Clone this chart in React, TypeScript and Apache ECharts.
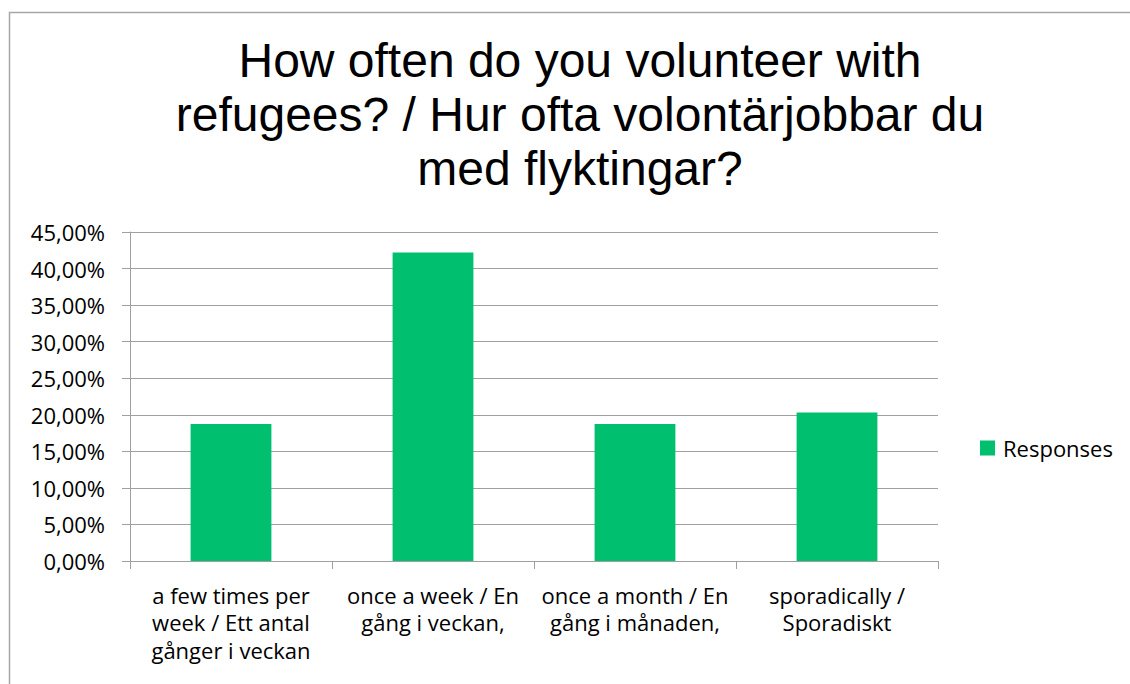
import React, { useEffect, useRef } from "react";
import * as echarts from "echarts";

const categories = [
  "a few times per\nweek / Ett antal\ngånger i veckan",
  "once a week / En\ngång i veckan,",
  "once a month / En\ngång i månaden,",
  "sporadically /\nSporadiskt",
];
const responses = [18.75, 42.19, 18.75, 20.31];
const seriesName = "Responses";
const titleText = "How often do you volunteer with\nrefugees? / Hur ofta volontärjobbar du\nmed flyktingar?";

export default function App() {
  const ref = useRef<HTMLDivElement>(null);
  useEffect(() => {
    if (!ref.current) return;
    const chart = echarts.init(ref.current, null, { renderer: "svg" });
    const labelFont = "'Open Sans', Lato, sans-serif";
    chart.setOption({
      animation: false,
      backgroundColor: "#ffffff",
      graphic: [
        {
          type: "rect",
          shape: { x: 9.5, y: 12.5, width: 1130, height: 700 },
          style: { fill: "none", stroke: "#A6A6A6", lineWidth: 1.5 },
          silent: true,
        },
      ],
      title: {
        text: titleText,
        left: 575,
        textAlign: "center",
        top: 28,
        textStyle: {
          fontFamily: "'Liberation Sans', Arial, sans-serif",
          fontSize: 48,
          fontWeight: "normal",
          color: "#000000",
          lineHeight: 54,
        },
      },
      legend: {
        data: [seriesName],
        left: 975,
        top: 432,
        itemWidth: 15,
        itemHeight: 15,
        icon: "rect",
        textStyle: {
          fontFamily: labelFont,
          fontSize: 22,
          lineHeight: 22,
          color: "#000000",
          padding: [0, 0, 0, 3],
        },
      },
      grid: { left: 130, right: 192, top: 232, bottom: 123, containLabel: false },
      xAxis: {
        type: "category",
        data: categories,
        axisLine: { lineStyle: { color: "#A0A0A0", width: 1 } },
        axisTick: { show: true, length: 8, lineStyle: { color: "#A0A0A0" } },
        axisLabel: {
          interval: 0,
          margin: 20,
          fontFamily: labelFont,
          fontSize: 22,
          lineHeight: 27.5,
          color: "#000000",
        },
      },
      yAxis: {
        type: "value",
        min: 0,
        max: 45,
        interval: 5,
        axisLine: { show: true, lineStyle: { color: "#A0A0A0", width: 1 } },
        axisTick: { show: true, length: 8, lineStyle: { color: "#A0A0A0" } },
        splitLine: { show: true, lineStyle: { color: "#A0A0A0", width: 1 } },
        axisLabel: {
          margin: 25,
          fontFamily: labelFont,
          fontSize: 22,
          color: "#000000",
          formatter: (v: number) => v.toFixed(2).replace(".", ",") + "%",
        },
      },
      series: [
        {
          name: seriesName,
          type: "bar",
          data: responses,
          barCategoryGap: "60%",
          itemStyle: { color: "#00BF6F" },
        },
      ],
    });
    return () => chart.dispose();
  }, []);
  return (
    <div
      ref={ref}
      style={{ position: "fixed", left: 0, top: 0, width: 1130, height: 684 }}
    />
  );
}
